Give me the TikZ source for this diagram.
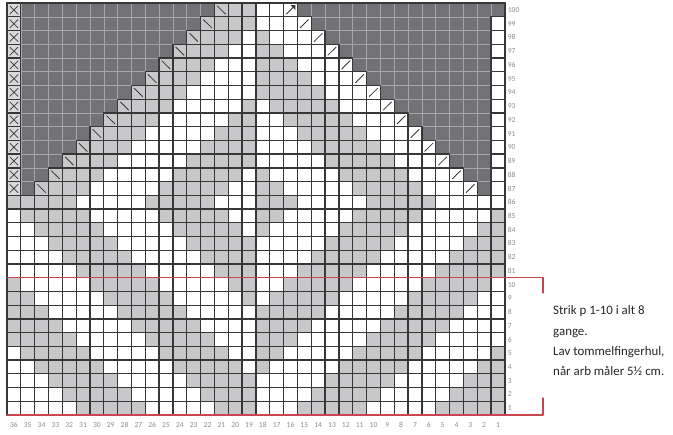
\documentclass[tikz,border=0pt]{standalone}
\usepackage{fontspec}
\newfontfamily\diagramfont{Carlito}

\definecolor{maskegraa}{RGB}{200,200,203}
\definecolor{lukketgraa}{RGB}{114,114,118}
\definecolor{lukketlinje}{RGB}{165,165,170}
\definecolor{gitterlinje}{RGB}{55,55,55}
\definecolor{rammerod}{RGB}{200,70,80}
\definecolor{talgraa}{RGB}{140,140,140}

\begin{document}
\begin{tikzpicture}[x=0.415cm,y=0.412cm,line cap=round,line join=round,
    etiket/.style={font=\diagramfont\fontsize{6.5}{7}\selectfont,text=talgraa,inner sep=0pt}]
        \useasboundingbox (-0.506,-1.384) rectangle (48.156,30.226);

        % Masker: hvide og grå felter
        \foreach \j in {0,...,29}{
            \pgfmathtruncatemacro{\raekke}{\j<10 ? \j+1 : \j+71}
            \foreach \i in {1,...,36}{
                \pgfmathtruncatemacro{\rest}{\raekke<87 ? (\i<19 ? mod(\i+\raekke,10) : mod(\i-\raekke+100,10)) : (\i<19 ? mod(\i-\raekke+100,10) : mod(\i+\raekke,10))}
                \pgfmathtruncatemacro{\hvid}{(\raekke>86 && \i==36) ? 1 : (\raekke<87 ? (\i<19 ? (\rest>=2 && \rest<=6) : (\rest>=6 || \rest==0)) : (\i<19 ? (\rest<=4) : (\rest>=8 || \rest<=2)))}
                \ifnum\hvid=0
                    \fill[maskegraa] (\i-1,\j) rectangle (\i,\j+1);
                \fi
            }
        }
        \foreach \i in {0,...,36}
            \draw[gitterlinje,line width=1.1pt] (\i,0) -- (\i,30);
        \foreach \j in {0,...,30}
            \draw[gitterlinje,line width=1.1pt] (0,\j) -- (36,\j);

        %----------------------------------------------------------
        % Lukkede felter øverst (indtagninger)
        \def\venstrelukket{(1,16) \foreach \k in {2,...,15}{ -- (\k,\k+14) -- (\k,\k+15)} -- (1,30) -- cycle}
        \def\hoejrelukket{(35,16) \foreach \k in {34,...,21}{ -- (\k,50-\k) -- (\k,51-\k)} -- (36,30) -- (36,29) -- (35,29) -- cycle}
        \fill[lukketgraa] \venstrelukket;
        \fill[lukketgraa] \hoejrelukket;
        \begin{scope}
            \clip \venstrelukket;
            \foreach \i in {1,...,15}
                \draw[lukketlinje,line width=0.5pt] (\i,16) -- (\i,30);
            \foreach \j in {16,...,30}
                \draw[lukketlinje,line width=0.5pt] (1,\j) -- (15,\j);
        \end{scope}
        \begin{scope}
            \clip \hoejrelukket;
            \foreach \i in {21,...,36}
                \draw[lukketlinje,line width=0.5pt] (\i,16) -- (\i,30);
            \foreach \j in {16,...,30}
                \draw[lukketlinje,line width=0.5pt] (21,\j) -- (36,\j);
        \end{scope}
        \draw[gitterlinje,line width=1.1pt] \venstrelukket;
        \draw[gitterlinje,line width=1.1pt] \hoejrelukket;

        % Ingen maske (kryds) i første kolonne
        \foreach \y in {16,...,29}{
            \fill[gray!30] (0,\y) rectangle (1,\y+1);
            \draw[gitterlinje,line width=1.1pt] (0,\y) rectangle (1,\y+1);
            \draw[gitterlinje,line width=0.6pt]
                (0.2,\y+0.2) -- (0.8,\y+0.8) (0.2,\y+0.8) -- (0.8,\y+0.2);
        }

        % Indtagninger
        \foreach \k in {2,...,15}
            \draw[gitterlinje,line width=0.7pt] (\k+0.2,\k+14.8) -- (\k+0.8,\k+14.2);
        \foreach \k in {21,...,33}
            \draw[gitterlinje,line width=0.7pt] (\k+0.2,49.2-\k) -- (\k+0.8,49.8-\k);
        \draw[gitterlinje,line width=0.7pt] (20.2,29.2) -- (20.8,29.8);
        \fill[gitterlinje] (20.5,29.85) -- (20.85,29.85) -- (20.85,29.5) -- cycle;

        \draw[gitterlinje,line width=1.1pt] (0,0) rectangle (36,30);

        %----------------------------------------------------------
        % Rapport p 1-10
        \draw[rammerod,line width=1.1pt] (0,10) -- (38.76,10) -- (38.76,8.885);
        \draw[rammerod,line width=1.1pt] (0,0) -- (38.76,0) -- (38.76,1.24);

        % Pindetal og maskenumre
        \foreach \j in {0,...,29}{
            \pgfmathtruncatemacro{\nr}{\j<10 ? \j+1 : \j+71}
            \node[etiket,anchor=west] (rk\j) at (36.2,\j+0.5) {\nr};
        }
        \foreach \i in {1,...,36}{
            \pgfmathtruncatemacro{\nr}{37-\i}
            \node[etiket] (mk\i) at (\i-0.5,-0.72) {\nr};
        }

        \node[font=\diagramfont\fontsize{11}{17.1}\selectfont,text=black!85,
              align=left,anchor=base west,inner sep=0pt] (note) at (39.48,2.91)
            {Strik p 1-10 i alt 8\\gange.\\Lav tommelfingerhul,\\når arb måler 5½ cm.};
    \end{tikzpicture}
\end{document}
